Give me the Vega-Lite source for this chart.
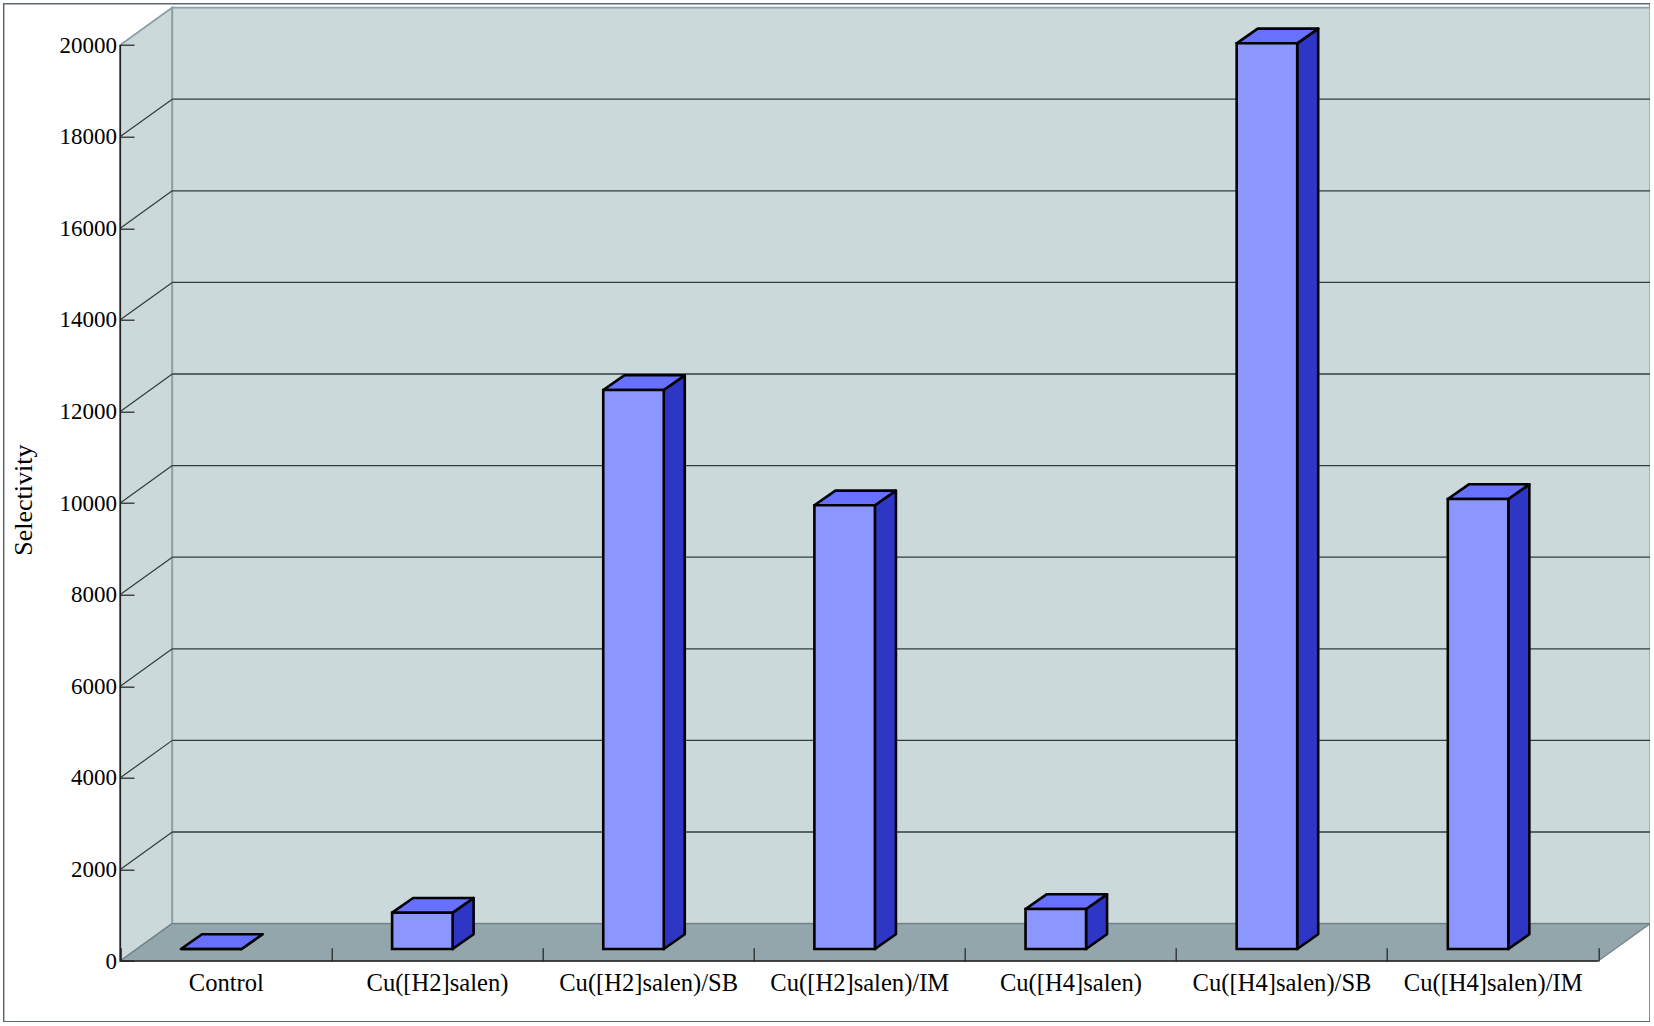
{
"$schema":"https://vega.github.io/schema/vega-lite/v6.json",
"width":1646.3,"height":1018,
"autosize":{"type":"none"},
"padding":{"left":3.7,"top":3.7,"right":0,"bottom":0},
"background":"#ffffff",
"config":{"view":{"stroke":"#5b6a70","strokeWidth":1.5},"font":"Liberation Serif"},
"datasets":{
"bars":[
{"name":"Control","order":0,"value":0},
{"name":"Cu([H2]salen)","order":1,"value":793},
{"name":"Cu([H2]salen)/SB","order":2,"value":12205},
{"name":"Cu([H2]salen)/IM","order":3,"value":9688},
{"name":"Cu([H4]salen)","order":4,"value":873},
{"name":"Cu([H4]salen)/SB","order":5,"value":19775},
{"name":"Cu([H4]salen)/IM","order":6,"value":9825}
],
"levels":[{"v":2000},{"v":4000},{"v":6000},{"v":8000},{"v":10000},{"v":12000},{"v":14000},{"v":16000},{"v":18000}],
"ends":[{"t":0},{"t":1}]
},
"layer":[
{"data":{"name":"ends"},
"transform":[{"calculate":"datum.t*0.2463","as":"x"},{"calculate":"datum.t*817","as":"y"},{"calculate":"20000+datum.t*817","as":"y2"}],
"mark":{"type":"area","fill":"#cbd9da","stroke":"#8ba0a7","strokeWidth":1.8,"clip":false},
"encoding":{
"x":{"field":"x","type":"quantitative","scale":{"domain":[-0.552,7.245],"nice":false,"zero":false},
"axis":{"values":[0,1,2,3,4,5,6,7],"title":null,"orient":"bottom","offset":-60.7,"domain":false,"grid":false,"tickSize":-13.3,"tickColor":"#222222","tickWidth":1.2,"labelOffset":105.57,"labelPadding":23.5,"labelFontSize":24.6,"labelFont":"Liberation Serif","labelColor":"#000000","labelOverlap":false,"labelBound":false,"labelFlush":false,"zindex":1,
"labelExpr":"datum.value<7?['Control','Cu([H2]salen)','Cu([H2]salen)/SB','Cu([H2]salen)/IM','Cu([H4]salen)','Cu([H4]salen)/SB','Cu([H4]salen)/IM'][datum.value]:''"}},
"y":{"field":"y","type":"quantitative","stack":null,"scale":{"domain":[-1325,20902],"nice":false,"zero":false},
"axis":{"values":[0,2000,4000,6000,8000,10000,12000,14000,16000,18000,20000],"title":"Selectivity","titleFont":"Liberation Serif","titleFontSize":26,"titleFontWeight":"normal","titleColor":"#000000","titleX":-84,"titleY":496,"orient":"left","offset":-116.6,"domain":false,"grid":false,"tickSize":-13.7,"tickColor":"#222222","tickWidth":1.2,"labelPadding":17.5,"labelFontSize":23,"labelFont":"Liberation Serif","labelColor":"#000000","labelOverlap":false,"labelBound":false,"labelFlush":false,"format":"d","zindex":1}},
"y2":{"field":"y2"}
}},
{"data":{"values":[{}]},
"mark":{"type":"rect","fill":"#cbd9da","stroke":"#8ba0a7","strokeWidth":1.8,"clip":false},
"encoding":{
"x":{"datum":0.2463,"type":"quantitative","scale":{"domain":[-0.552,7.245],"nice":false,"zero":false}},
"x2":{"datum":7.2463},
"y":{"datum":817,"type":"quantitative","scale":{"domain":[-1325,20902],"nice":false,"zero":false}},
"y2":{"datum":20817}
}},
{"data":{"name":"ends"},
"transform":[{"calculate":"datum.t*0.2463","as":"x"},{"calculate":"7+datum.t*0.2463","as":"x2"},{"calculate":"datum.t*817","as":"y"}],
"mark":{"type":"area","orient":"horizontal","fill":"#93a6ac","stroke":"#6f8086","strokeWidth":1.2},
"encoding":{
"x":{"field":"x","type":"quantitative","scale":{"domain":[-0.552,7.245],"nice":false,"zero":false}},
"x2":{"field":"x2"},
"y":{"field":"y","type":"quantitative","stack":null,"scale":{"domain":[-1325,20902],"nice":false,"zero":false}}
}},
{"data":{"name":"levels"},
"transform":[{"calculate":"datum.v+817","as":"yb"}],
"mark":{"type":"rule","color":"#2f3c40","strokeWidth":1.3},
"encoding":{
"x":{"datum":0.2463,"type":"quantitative","scale":{"domain":[-0.552,7.245],"nice":false,"zero":false}},
"x2":{"datum":7.2463},
"y":{"field":"yb","type":"quantitative","scale":{"domain":[-1325,20902],"nice":false,"zero":false}}
}},
{"data":{"name":"levels"},
"transform":[{"calculate":"[0,1]","as":"t"},{"flatten":["t"]},{"calculate":"datum.t*0.2463","as":"x"},{"calculate":"datum.v+datum.t*817","as":"y"}],
"mark":{"type":"line","color":"#2f3c40","strokeWidth":1.2},
"encoding":{
"x":{"field":"x","type":"quantitative","scale":{"domain":[-0.552,7.245],"nice":false,"zero":false}},
"y":{"field":"y","type":"quantitative","scale":{"domain":[-1325,20902],"nice":false,"zero":false}},
"detail":{"field":"v"}
}},
{"data":{"values":[{}]},
"mark":{"type":"rule","color":"#222222","strokeWidth":1.6},
"encoding":{
"x":{"datum":0,"type":"quantitative","scale":{"domain":[-0.552,7.245],"nice":false,"zero":false}},
"y":{"datum":0,"type":"quantitative","scale":{"domain":[-1325,20902],"nice":false,"zero":false}},
"y2":{"datum":20000}
}},
{"data":{"values":[{}]},
"mark":{"type":"rule","color":"#222222","strokeWidth":1.6},
"encoding":{
"x":{"datum":0,"type":"quantitative","scale":{"domain":[-0.552,7.245],"nice":false,"zero":false}},
"x2":{"datum":7},
"y":{"datum":0,"type":"quantitative","scale":{"domain":[-1325,20902],"nice":false,"zero":false}}
}},
{"data":{"name":"bars"},
"transform":[{"calculate":"[0,1]","as":"t"},{"flatten":["t"]},{"calculate":"datum.order+0.5741+datum.t*0.0995","as":"x"},{"calculate":"262+datum.value+datum.t*321","as":"y"},{"calculate":"262+datum.t*321","as":"y2"}],
"mark":{"type":"area","fill":"#2e36c6","stroke":"#000000","strokeWidth":2.6,"strokeJoin":"round"},
"encoding":{
"x":{"field":"x","type":"quantitative","scale":{"domain":[-0.552,7.245],"nice":false,"zero":false}},
"y":{"field":"y","type":"quantitative","stack":null,"scale":{"domain":[-1325,20902],"nice":false,"zero":false}},
"y2":{"field":"y2"},
"detail":{"field":"name"}
}},
{"data":{"name":"bars"},
"transform":[{"calculate":"[0,1]","as":"t"},{"flatten":["t"]},{"calculate":"datum.order+0.2875+datum.t*0.0995","as":"x"},{"calculate":"datum.order+0.5741+datum.t*0.0995","as":"x2"},{"calculate":"262+datum.value+datum.t*321","as":"y"}],
"mark":{"type":"area","orient":"horizontal","fill":"#6870ff","stroke":"#000000","strokeWidth":2.6,"strokeJoin":"round"},
"encoding":{
"x":{"field":"x","type":"quantitative","scale":{"domain":[-0.552,7.245],"nice":false,"zero":false}},
"x2":{"field":"x2"},
"y":{"field":"y","type":"quantitative","stack":null,"scale":{"domain":[-1325,20902],"nice":false,"zero":false}},
"detail":{"field":"name"}
}},
{"data":{"name":"bars"},
"transform":[{"calculate":"datum.order+0.2875","as":"x"},{"calculate":"datum.order+0.5741","as":"x2"},{"calculate":"262","as":"y"},{"calculate":"262+datum.value","as":"y2"}],
"mark":{"type":"rect","fill":"#8c96ff","stroke":"#000000","strokeWidth":2.6},
"encoding":{
"x":{"field":"x","type":"quantitative","scale":{"domain":[-0.552,7.245],"nice":false,"zero":false}},
"x2":{"field":"x2"},
"y":{"field":"y","type":"quantitative","scale":{"domain":[-1325,20902],"nice":false,"zero":false}},
"y2":{"field":"y2"}
}}
]
}
